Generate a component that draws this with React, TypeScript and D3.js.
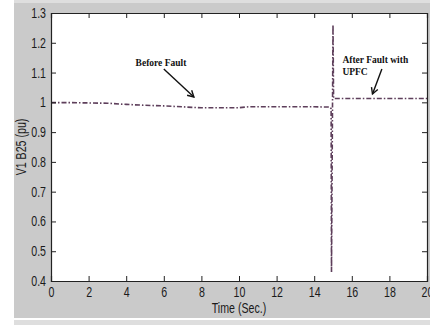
import React, { useEffect, useRef } from 'react';
import * as d3 from 'd3';

// voltage at bus B25 (pu) vs time (s)
const times = [0, 1, 2, 3, 4, 5, 6, 7, 7.5, 8, 9, 10, 10.5, 12, 14, 14.85, 14.9, 14.92, 15.0, 15.03, 16, 18, 20];
const volts = [0.999, 0.999, 0.998, 0.997, 0.993, 0.99, 0.988, 0.985, 0.983, 0.982, 0.982, 0.982, 0.985, 0.985, 0.985, 0.984, 0.978, 0.43, 1.26, 1.013, 1.013, 1.013, 1.013];

const xTicks = [0, 2, 4, 6, 8, 10, 12, 14, 16, 18, 20];
const yTicks = [0.4, 0.5, 0.6, 0.7, 0.8, 0.9, 1, 1.1, 1.2, 1.3];

// annotations in data units
const noteText = [
	{ t: 4.5, v: 1.122, lines: ['Before Fault'] },
	{ t: 15.5, v: 1.132, lines: ['After Fault with', 'UPFC'] },
];
const noteArrows = [
	{ t0: 6.0, v0: 1.112, t1: 7.6, v1: 1.018 },
	{ t0: 17.6, v0: 1.112, t1: 17.1, v1: 1.028 },
];

const App = () => {
	const ref = useRef(null);

	useEffect(() => {
		const width = 430;
		const height = 325;
		const m = { l: 51, t: 13, r: 3, b: 44 };
		const pw = width - m.l - m.r;
		const ph = height - m.t - m.b;
		const linecolor = '#5e3f5b';
		const tickfont = "'Liberation Sans', Arial, sans-serif";
		const sx = 0.76; // squeeze text like matlab's narrow font

		const svg = d3.select(ref.current);
		svg.selectAll('*').remove();

		// figure background
		svg.append('rect').attr('x', 14).attr('y', 0).attr('width', width - 14).attr('height', height).attr('fill', '#dedede');
		svg.append('rect').attr('x', 14).attr('y', 3).attr('width', width - 14).attr('height', 315).attr('fill', '#cacaca');
		svg.append('rect').attr('x', 14).attr('y', 318).attr('width', width - 14).attr('height', 2).attr('fill', '#ffffff');

		const x = d3.scaleLinear().domain([0, 20]).range([0, pw]);
		const y = d3.scaleLinear().domain([0.4, 1.3]).range([ph, 0]);

		const g = svg.append('g').attr('transform', `translate(${m.l},${m.t})`);
		g.append('rect').attr('width', pw).attr('height', ph).attr('fill', '#ffffff');

		// data line
		const line = d3
			.line()
			.x((d, i) => x(times[i]))
			.y((d, i) => y(volts[i]));
		g.append('path')
			.datum(volts)
			.attr('d', line)
			.attr('fill', 'none')
			.attr('stroke', linecolor)
			.attr('stroke-width', 1.6)
			.attr('stroke-dasharray', '5,2,1.5,2');

		// axes, matlab style inside ticks
		const fmt = d => d3.format('~g')(d);
		const bottom = g
			.append('g')
			.attr('transform', `translate(0,${ph})`)
			.call(d3.axisBottom(x).tickValues(xTicks).tickSize(-5).tickPadding(6).tickFormat(fmt));
		const left = g.append('g').call(d3.axisLeft(y).tickValues(yTicks).tickSize(-5).tickFormat(fmt));
		const top = g.append('g').call(d3.axisTop(x).tickValues(xTicks).tickSize(-5).tickFormat(''));
		const right = g
			.append('g')
			.attr('transform', `translate(${pw},0)`)
			.call(d3.axisRight(y).tickValues(yTicks).tickSize(-5).tickFormat(''));

		[bottom, left, top, right].forEach(a => {
			a.selectAll('path.domain').attr('stroke', '#222').attr('stroke-width', 1.2);
			a.selectAll('.tick line').attr('stroke', '#222');
			a.selectAll('.tick text')
				.attr('fill', '#1a1a1a')
				.attr('transform', `scale(${sx},1)`)
				.style('font-family', tickfont)
				.style('font-size', '14px');
		});
		left.selectAll('.tick text').attr('x', -5 / sx);

		// axis titles
		svg.append('text')
			.attr('transform', `translate(${m.l + pw / 2},313) scale(${sx},1)`)
			.attr('text-anchor', 'middle')
			.attr('fill', '#1a1a1a')
			.style('font-family', tickfont)
			.style('font-size', '14px')
			.text('Time (Sec.)');
		svg.append('text')
			.attr('transform', `translate(26,${m.t + ph / 2}) rotate(-90) scale(${sx},1)`)
			.attr('text-anchor', 'middle')
			.attr('fill', '#1a1a1a')
			.style('font-family', tickfont)
			.style('font-size', '14px')
			.text('V1 B25 (pu)');

		// annotations
		noteText.forEach(n => {
			n.lines.forEach((s, i) => {
				g.append('text')
					.attr('x', x(n.t))
					.attr('y', y(n.v) + i * 12)
					.attr('fill', '#111')
					.style('font-family', "'Liberation Serif', serif")
					.style('font-weight', 'bold')
					.style('font-size', '9.5px')
					.text(s);
			});
		});
		noteArrows.forEach(a => {
			const x0 = x(a.t0), y0 = y(a.v0), x1 = x(a.t1), y1 = y(a.v1);
			const ang = Math.atan2(y1 - y0, x1 - x0);
			const hl = 7;
			g.append('line')
				.attr('x1', x0).attr('y1', y0).attr('x2', x1).attr('y2', y1)
				.attr('stroke', '#111').attr('stroke-width', 1.4);
			g.append('path')
				.attr('d', `M${x1 - hl * Math.cos(ang - 0.5)},${y1 - hl * Math.sin(ang - 0.5)}L${x1},${y1}L${x1 - hl * Math.cos(ang + 0.5)},${y1 - hl * Math.sin(ang + 0.5)}`)
				.attr('fill', 'none').attr('stroke', '#111').attr('stroke-width', 1.4);
		});
	}, []);

	return <svg ref={ref} width={430} height={325} style={{ position: 'absolute', left: 0, top: 0, display: 'block' }} />;
};

export default App;
